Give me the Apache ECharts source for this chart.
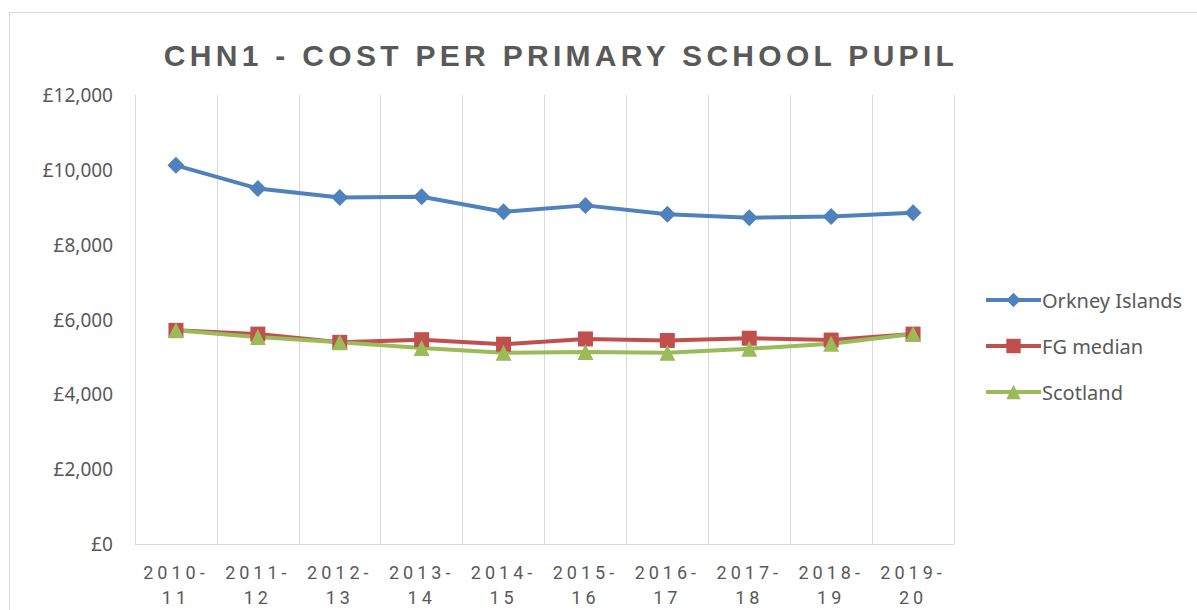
<!DOCTYPE html>
<html>
<head>
<meta charset="utf-8">
<script src="https://cdn.jsdelivr.net/npm/echarts@6/dist/echarts.min.js"></script>
<style>
  html, body { margin: 0; padding: 0; background: #fff; }
  #frame {
    position: absolute; left: 9px; top: 12px; width: 1200px; height: 620px;
    border: 1px solid #d9d9d9; box-sizing: border-box;
  }
  #chart { position: absolute; left: 0; top: 0; width: 1197px; height: 610px; }
  /* spaced-out lettering like the original, svg renderer only */
  #chart text[style*="Liberation Sans"] { letter-spacing: 4.3px; }
  #chart text[style*="Roboto"] { letter-spacing: 4px; }
</style>
</head>
<body>
<div id="frame"></div>
<div id="chart"></div>
<script>
// categories (financial years)
const years = ['2010-\n11', '2011-\n12', '2012-\n13', '2013-\n14', '2014-\n15',
               '2015-\n16', '2016-\n17', '2017-\n18', '2018-\n19', '2019-\n20'];

// cost per pupil, £
const orkney   = [10120, 9500, 9260, 9280, 8880, 9050, 8810, 8720, 8750, 8850];
const fgMedian = [5710, 5610, 5390, 5460, 5340, 5480, 5440, 5500, 5450, 5610];
const scotland = [5710, 5530, 5390, 5240, 5110, 5130, 5110, 5220, 5350, 5610];

const chart = echarts.init(document.getElementById('chart'), null, { renderer: 'svg' });

const grey = '#595959';

chart.setOption({
  animation: false,
  title: {
    text: 'CHN1 - COST PER PRIMARY SCHOOL PUPIL',
    left: 556,
    textAlign: 'center',
    top: 35,
    textStyle: {
      fontFamily: 'Liberation Sans',
      fontWeight: 'bold',
      fontSize: 30,
      color: grey
    }
  },
  legend: {
    orient: 'vertical',
    left: 979,
    top: 285,
    itemWidth: 55,
    itemHeight: 18,
    itemGap: 26,
    lineStyle: { width: 4 },
    textStyle: { fontFamily: 'Noto Sans', fontSize: 20, color: grey, padding: [0, 0, 0, -4] },
    data: ['Orkney Islands', 'FG median', 'Scotland']
  },
  grid: { left: 135, right: 243, top: 95, bottom: 64 },
  xAxis: {
    type: 'category',
    data: years,
    boundaryGap: true,
    axisLine: { lineStyle: { color: '#d9d9d9', width: 1 } },
    axisTick: { show: false },
    splitLine: { show: true, lineStyle: { color: '#d9d9d9', width: 1 } },
    axisLabel: {
      fontFamily: 'Roboto',
      fontSize: 18,
      color: grey,
      lineHeight: 25,
      margin: 16,
      interval: 0
    }
  },
  yAxis: {
    type: 'value',
    min: 0,
    max: 12000,
    interval: 2000,
    axisLine: { show: false },
    axisTick: { show: false },
    splitLine: { show: false },
    axisLabel: {
      fontFamily: 'Noto Sans',
      fontSize: 19,
      color: grey,
      margin: 22,
      formatter: v => '£' + v.toLocaleString('en-GB')
    }
  },
  series: [
    {
      name: 'Orkney Islands',
      type: 'line',
      data: orkney,
      symbol: 'diamond',
      symbolSize: 17,
      color: '#4f81bd',
      lineStyle: { width: 4 }
    },
    {
      name: 'FG median',
      type: 'line',
      data: fgMedian,
      symbol: 'rect',
      symbolSize: 15,
      color: '#c0504d',
      lineStyle: { width: 4 }
    },
    {
      name: 'Scotland',
      type: 'line',
      data: scotland,
      symbol: 'triangle',
      symbolSize: 16,
      color: '#9bbb59',
      lineStyle: { width: 4 }
    }
  ]
});
</script>
</body>
</html>
